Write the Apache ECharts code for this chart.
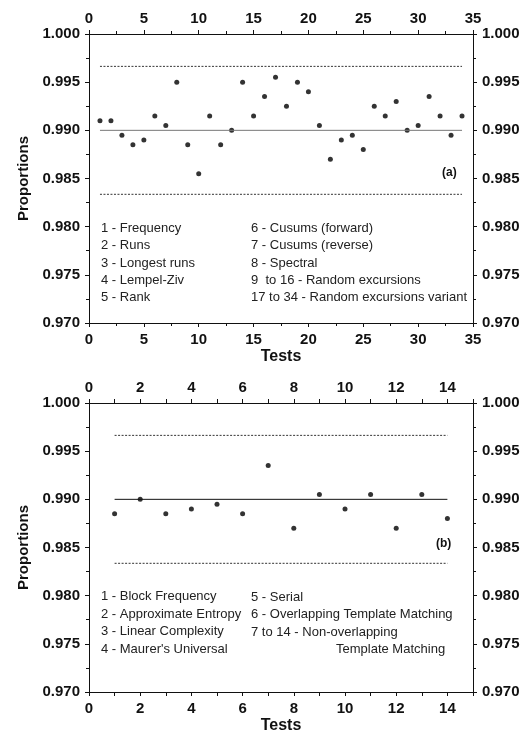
<!DOCTYPE html>
<html>
<head>
<meta charset="utf-8">
<script src="https://cdn.jsdelivr.net/npm/echarts@6/dist/echarts.min.js"></script>
<style>
  html, body { margin: 0; padding: 0; background: #fff; }
  #chart { width: 530px; height: 735px; }
</style>
</head>
<body>
<div id="chart"></div>
<script>
// panel (a): 34 tests
const testsA = [1, 2, 3, 4, 5, 6, 7, 8, 9, 10, 11, 12, 13, 14, 15, 16, 17,
  18, 19, 20, 21, 22, 23, 24, 25, 26, 27, 28, 29, 30, 31, 32, 33, 34];
const proportionsA = [0.991, 0.991, 0.9895, 0.9885, 0.989, 0.9915, 0.9905, 0.995,
  0.9885, 0.9855, 0.9915, 0.9885, 0.990, 0.995, 0.9915, 0.9935, 0.9955,
  0.9925, 0.995, 0.994, 0.9905, 0.987, 0.989, 0.9895, 0.988, 0.9925,
  0.9915, 0.993, 0.990, 0.9905, 0.9935, 0.9915, 0.9895, 0.9915];

// panel (b): 14 tests
const testsB = [1, 2, 3, 4, 5, 6, 7, 8, 9, 10, 11, 12, 13, 14];
const proportionsB = [0.9885, 0.990, 0.9885, 0.989, 0.9895, 0.9885, 0.9935,
  0.987, 0.9905, 0.989, 0.9905, 0.987, 0.9905, 0.988];

const expected = 0.99;
const upperLimit = 0.99664;
const lowerLimit = 0.98336;

const legendA1 = ['1 - Frequency', '2 - Runs', '3 - Longest runs', '4 - Lempel-Ziv', '5 - Rank'];
const legendA2 = ['6 - Cusums (forward)', '7 - Cusums (reverse)', '8 - Spectral',
  '9  to 16 - Random excursions', '17 to 34 - Random excursions variant'];
const legendB1 = ['1 - Block Frequency', '2 - Approximate Entropy', '3 - Linear Complexity', "4 - Maurer's Universal"];
const legendB2 = ['5 - Serial', '6 - Overlapping Template Matching', '7 to 14 - Non-overlapping'];

const FONT = '"Liberation Sans", Arial, Helvetica, sans-serif';

const tickLabel = {
    color: '#111',
    fontFamily: FONT,
    fontWeight: 'bold',
    fontSize: 15,
}

const axisBase = {
    axisLine: {show: true, onZero: false, lineStyle: {color: '#111', width: 1}},
    axisTick: {show: true, inside: false, length: 4, lineStyle: {color: '#111'}},
    minorTick: {show: true, splitNumber: 2, length: 3, lineStyle: {color: '#111'}},
    splitLine: {show: false},
    minorSplitLine: {show: false},
}

const xAxes = (grid, max, interval, fmt, minor) => [
    {
        ...axisBase, gridIndex: grid, type: 'value', position: 'bottom',
        min: 0, max: max, interval: interval,
        minorTick: {...axisBase.minorTick, show: minor},
        axisLabel: {...tickLabel, margin: 9, formatter: fmt},
        name: 'Tests', nameLocation: 'middle', nameGap: 26,
        nameTextStyle: {color: '#111', fontFamily: FONT, fontWeight: 'bold', fontSize: 16},
    },
    {
        ...axisBase, gridIndex: grid, type: 'value', position: 'top',
        min: 0, max: max, interval: interval,
        minorTick: {...axisBase.minorTick, show: minor},
        axisLabel: {...tickLabel, margin: 8, formatter: fmt},
    },
]

const yFmt = (v) => v.toFixed(3)

const yAxes = (grid) => [
    {
        ...axisBase, gridIndex: grid, type: 'value', position: 'left',
        min: 0.97, max: 1.0, interval: 0.005,
        axisLabel: {...tickLabel, margin: 9, formatter: yFmt},
        name: 'Proportions', nameLocation: 'middle', nameGap: 58, nameRotate: 90,
        nameTextStyle: {color: '#111', fontFamily: FONT, fontWeight: 'bold', fontSize: 15},
    },
    {
        ...axisBase, gridIndex: grid, type: 'value', position: 'right',
        min: 0.97, max: 1.0, interval: 0.005,
        axisLabel: {...tickLabel, margin: 9, formatter: yFmt},
    },
]

const hline = (xi, yi, tests, value, color, type) => ({
    type: 'line', xAxisIndex: xi, yAxisIndex: yi,
    data: [[tests[0], value], [tests[tests.length - 1], value]],
    symbol: 'none', silent: true,
    lineStyle: {color: color, width: 1, type: type},
})

const dots = (xi, yi, tests, values) => ({
    type: 'scatter', xAxisIndex: xi, yAxisIndex: yi,
    data: tests.map((t, i) => [t, values[i]]),
    symbol: 'circle', symbolSize: 5,
    itemStyle: {color: '#000'},
})

const textLines = (lines, x, y0, step) => lines.map((s, i) => ({
    type: 'text', left: x, top: y0 + i * step - 8,
    style: {text: s, fill: '#222', font: '13px ' + FONT},
}))

const myChart = echarts.init(document.getElementById('chart'), null, {renderer: 'canvas'});
myChart.setOption({
    animation: false,
    backgroundColor: '#fff',
    grid: [
        {left: 89, top: 34, width: 384, height: 289},
        {left: 89, top: 403, width: 384, height: 289},
    ],
    xAxis: [
        ...xAxes(0, 35, 5, (v) => String(v), true),
        ...xAxes(1, 15, 1, (v) => (v % 2 === 0 && v < 15 ? String(v) : ''), false),
    ],
    yAxis: [
        ...yAxes(0),
        ...yAxes(1),
    ],
    series: [
        hline(0, 0, testsA, upperLimit, '#333', [2, 1.5]),
        hline(0, 0, testsA, lowerLimit, '#333', [2, 1.5]),
        hline(0, 0, testsA, expected, '#777', 'solid'),
        dots(0, 0, testsA, proportionsA),
        hline(2, 2, testsB, upperLimit, '#333', [2, 1.5]),
        hline(2, 2, testsB, lowerLimit, '#333', [2, 1.5]),
        hline(2, 2, testsB, expected, '#111', 'solid'),
        dots(2, 2, testsB, proportionsB),
    ],
    graphic: [
        ...textLines(legendA1, 101, 230, 17.3),
        ...textLines(legendA2, 251, 230, 17.3),
        ...textLines(legendB1, 101, 598, 17.7),
        ...textLines(legendB2, 251, 599, 17.3),
        {type: 'text', left: 336, top: 651 - 8, style: {text: 'Template Matching', fill: '#222', font: '13px ' + FONT}},
        {type: 'text', left: 442, top: 167, style: {text: '(a)', fill: '#111', font: 'bold 12px ' + FONT}},
        {type: 'text', left: 436, top: 538, style: {text: '(b)', fill: '#111', font: 'bold 12px ' + FONT}},
    ],
})
</script>
</body>
</html>
